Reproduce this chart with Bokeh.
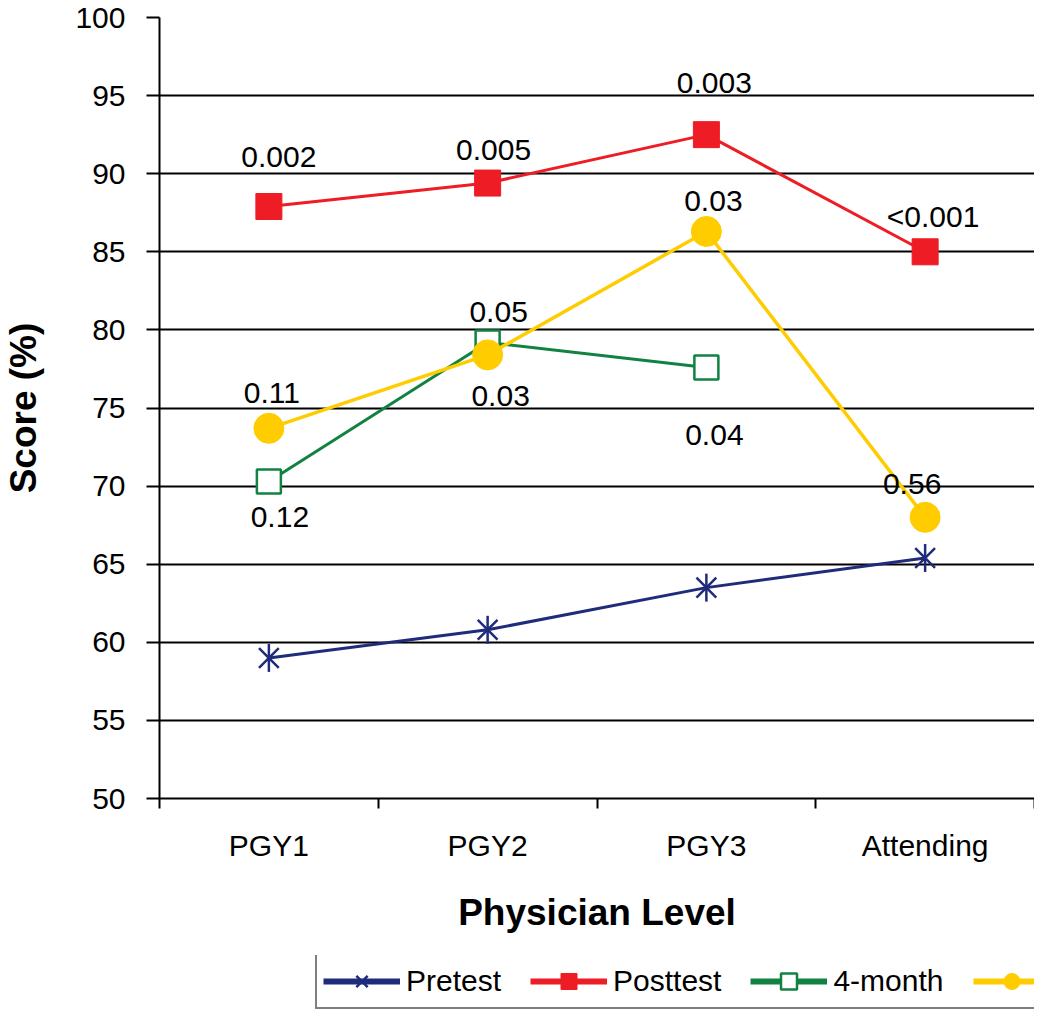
import math
from bokeh.plotting import figure
from bokeh.layouts import column
from bokeh.models import Range1d, FixedTicker, ColumnDataSource, Legend, LegendItem
from bokeh.core.properties import value
from bokeh.embed import file_html
from bokeh.resources import INLINE

# ---- data ----
categories = ["PGY1", "PGY2", "PGY3", "Attending"]
pretest = [59.0, 60.8, 63.5, 65.4]
posttest = [87.9, 89.4, 92.5, 85.0]
four_month = [70.3, 79.2, 77.6]
twelve_month = [73.7, 78.4, 86.3, 68.0]
y_ticks = [50, 55, 60, 65, 70, 75, 80, 85, 90, 95, 100]

posttest_p = ["0.002", "0.005", "0.003", "<0.001"]
twelve_p = ["0.11", "0.03", "0.03", "0.56"]
four_p = ["0.12", "0.05", "0.04"]

# ---- label placement (screen px offsets from the point) ----
posttest_off = [(10, -50), (6, -33), (8, -52), (8, -35)]
twelve_off = [(3, -35), (13, 41), (7, -30), (-13, -33)]
four_off = [(11, 36), (11, -30), (8, 68)]

NAVY = "#1F2B7B"
RED = "#EE1C25"
GREEN = "#118241"
YELLOW = "#FFCC00"
FONT = "Liberation Sans"

xs = list(range(len(categories)))
x4 = xs[:len(four_month)]

p = figure(width=1034, height=955, x_range=Range1d(-0.5, len(categories) - 0.5),
           y_range=Range1d(y_ticks[0], y_ticks[-1]),
           output_backend="svg", toolbar_location=None,
           min_border_left=153, min_border_top=17, min_border_right=0, min_border_bottom=157)
p.outline_line_color = None
p.background_fill_color = "white"
p.border_fill_color = "white"

# grid
p.xgrid.grid_line_color = None
p.ygrid.ticker = FixedTicker(ticks=y_ticks[1:-1])
p.ygrid.grid_line_color = "black"
p.ygrid.grid_line_width = 2

# y axis
ya = p.yaxis[0]
ya.ticker = FixedTicker(ticks=y_ticks)
ya.axis_line_width = 2
ya.major_tick_line_width = 2
ya.major_tick_out = 13
ya.major_tick_in = 0
ya.minor_tick_line_color = None
ya.major_label_standoff = 21
ya.major_label_text_font = FONT
ya.major_label_text_font_size = "30px"
ya.major_label_text_color = "black"
ya.axis_label = "Score (%)"
ya.axis_label_text_font = FONT
ya.axis_label_text_font_style = "bold"
ya.axis_label_text_font_size = "37px"
ya.axis_label_text_color = "black"
ya.axis_label_standoff = 28

# x axis: labels at category centres, ticks at boundaries
xa = p.xaxis[0]
xa.ticker = FixedTicker(ticks=xs, minor_ticks=[i - 0.5 for i in range(len(categories) + 1)])
xa.major_label_overrides = {i: c for i, c in enumerate(categories)}
xa.axis_line_width = 2
xa.major_tick_line_color = None
xa.major_tick_out = 10
xa.major_tick_in = 0
xa.minor_tick_line_width = 2
xa.minor_tick_out = 10
xa.minor_tick_in = 0
xa.major_label_standoff = 20
xa.major_label_text_font = FONT
xa.major_label_text_font_size = "30px"
xa.major_label_text_color = "black"
xa.axis_label = "Physician Level"
xa.axis_label_text_font = FONT
xa.axis_label_text_font_style = "bold"
xa.axis_label_text_font_size = "37px"
xa.axis_label_text_color = "black"
xa.axis_label_standoff = 27

# series
p.line(xs, pretest, line_color=NAVY, line_width=3)
p.scatter(xs, pretest, marker="x", size=28, line_color=NAVY, line_width=2.5)
p.scatter(xs, pretest, marker="dash", angle=math.pi / 2, size=28, line_color=NAVY, line_width=2.5)

p.line(xs, posttest, line_color=RED, line_width=3)
p.scatter(xs, posttest, marker="square", size=26, fill_color=RED, line_color=RED)

p.line(x4, four_month, line_color=GREEN, line_width=3)
p.scatter(x4, four_month, marker="square", size=24, fill_color="white", line_color=GREEN, line_width=2.5)

p.line(xs, twelve_month, line_color=YELLOW, line_width=3.5)
p.scatter(xs, twelve_month, marker="circle", size=30, fill_color=YELLOW, line_color=YELLOW)

# p-value annotations
def annotate(xv, yv, texts, offs):
    src = ColumnDataSource(dict(x=xv, y=yv, t=texts,
                                dx=[o[0] for o in offs], dy=[o[1] for o in offs]))
    p.text(x="x", y="y", text="t", x_offset="dx", y_offset="dy", source=src,
           text_font=value(FONT), text_font_size="30px", text_color="black",
           text_align="center", text_baseline="middle")

annotate(xs, posttest, posttest_p, posttest_off)
annotate(xs, twelve_month, twelve_p, twelve_off)
annotate(x4, four_month, four_p, four_off)

# ---- legend strip: a small figure below the chart ----
lf = figure(width=1034, height=55, x_range=Range1d(-0.5, len(categories) - 0.5),
            y_range=Range1d(1000, 2000),  # series values fall outside: only the legend shows
            output_backend="svg", toolbar_location=None,
            x_axis_location=None, y_axis_location=None, min_border=0)
lf.outline_line_color = None
lf.grid.grid_line_color = None
lf.background_fill_color = "white"
lf.border_fill_color = "white"

lg_pre = [lf.line(xs, pretest, line_color=NAVY, line_width=6),
          lf.scatter(xs, pretest, marker="x", line_color=NAVY, line_width=2.5),
          lf.scatter(xs, pretest, marker="dash", angle=math.pi / 2, line_color=NAVY, line_width=2.5)]
lg_post = [lf.line(xs, posttest, line_color=RED, line_width=6),
           lf.scatter(xs, posttest, marker="square", fill_color=RED, line_color=RED)]
lg_4 = [lf.line(x4, four_month, line_color=GREEN, line_width=6),
        lf.scatter(x4, four_month, marker="square", fill_color="white", line_color=GREEN, line_width=2.5)]
lg_12 = [lf.line(xs, twelve_month, line_color=YELLOW, line_width=6),
         lf.scatter(xs, twelve_month, marker="circle", fill_color=YELLOW, line_color=YELLOW)]

legend = Legend(items=[LegendItem(label="Pretest", renderers=lg_pre),
                       LegendItem(label="Posttest", renderers=lg_post),
                       LegendItem(label="4-month", renderers=lg_4),
                       LegendItem(label="12-month", renderers=lg_12)],
                orientation="horizontal", location=(156, 1),
                glyph_width=77, glyph_height=40, label_standoff=6, spacing=29,
                padding=6, margin=0,
                border_line_color="black", border_line_width=2,
                label_text_font=FONT, label_text_font_size="30px",
                label_text_color="black", background_fill_color="white")
lf.add_layout(legend, "center")

layout = column(p, lf, spacing=0)
open("out.html", "w").write(file_html(layout, INLINE))
